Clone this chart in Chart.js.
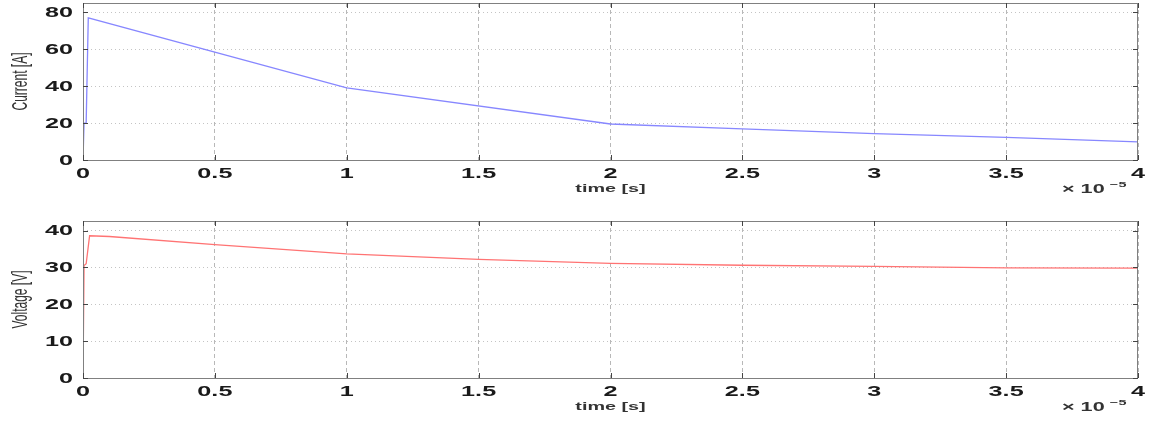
<!DOCTYPE html>
<html>
<head>
<meta charset="utf-8">
<script src="https://cdn.jsdelivr.net/npm/chart.js@4"></script>
<style>
  body { margin: 0; background: #fff; }
  .wrap { position: relative; width: 1157px; height: 421px; }
  canvas { position: absolute; left: 0; }
</style>
</head>
<body>
<div class="wrap">
  <canvas id="currentChart" width="1157" height="210" style="top:0"></canvas>
  <canvas id="voltageChart" width="1157" height="211" style="top:210px"></canvas>
</div>
<script>
// time axis is in units of 10^-5 s
const timeCurrent = [0, 0.004, 0.012, 0.02, 1.0, 2.0, 2.5, 3.0, 3.5, 4.0];
const current     = [0, 20, 20, 77, 39, 19.5, 16.8, 14.3, 12.2, 9.8];

const timeVoltage = [0, 0.004, 0.012, 0.025, 0.1, 0.5, 1.0, 1.5, 2.0, 2.5, 3.0, 3.5, 4.0];
const voltage     = [0, 30.5, 31, 38.6, 38.4, 36.2, 33.7, 32.2, 31.1, 30.6, 30.3, 29.9, 29.8];

const xTicks = [0, 0.5, 1, 1.5, 2, 2.5, 3, 3.5, 4];
const currentTicks = [0, 20, 40, 60, 80];
const voltageTicks = [0, 10, 20, 30, 40];
const xTitle = 'time [s]';
const xExponent = ['\u00d7 10', '\u22125'];

// the old figure was stretched sideways, so text is drawn wider than it is tall
const SX = 1.8;
const FONT = '"Liberation Sans", Arial, sans-serif';

function stretchedText(ctx, text, x, y, font, align, baseline, rotate) {
    ctx.save();
    ctx.translate(x, y);
    ctx.scale(SX, 1);
    if (rotate) ctx.rotate(-Math.PI / 2);
    ctx.font = font;
    ctx.textAlign = align;
    ctx.textBaseline = baseline;
    ctx.fillText(text, 0, 0);
    ctx.restore();
}

// box, inward ticks and labels drawn matlab style
const matlabAxes = {
    id: 'matlabAxes',
    afterDraw(chart, args, opts) {
        const ctx = chart.ctx;
        const a = chart.chartArea;
        const xs = chart.scales.x, ys = chart.scales.y;

        ctx.save();
        ctx.strokeStyle = '#808080';
        ctx.lineWidth = 1;
        ctx.strokeRect(a.left + 0.5, a.top + 0.5, a.right - a.left - 1, a.bottom - a.top);

        ctx.strokeStyle = '#444';
        ctx.beginPath();
        xs.ticks.forEach(t => {
            const px = Math.round(xs.getPixelForValue(t.value)) + 0.5;
            ctx.moveTo(px, a.bottom); ctx.lineTo(px, a.bottom - 5);
            ctx.moveTo(px, a.top); ctx.lineTo(px, a.top + 5);
        });
        ys.ticks.forEach(t => {
            const py = Math.round(ys.getPixelForValue(t.value)) + 0.5;
            ctx.moveTo(a.left, py); ctx.lineTo(a.left + 5, py);
            ctx.moveTo(a.right, py); ctx.lineTo(a.right - 5, py);
        });
        ctx.stroke();

        ctx.fillStyle = '#1a1a1a';
        const tickFont = 'bold 14px ' + FONT;
        xs.ticks.forEach(t => {
            stretchedText(ctx, String(t.value), xs.getPixelForValue(t.value), a.bottom + 7, tickFont, 'center', 'top');
        });
        ys.ticks.forEach(t => {
            stretchedText(ctx, String(t.value), a.left - 10, ys.getPixelForValue(t.value) + 1, tickFont, 'right', 'middle');
        });

        ctx.fillStyle = '#333';
        stretchedText(ctx, xTitle, (a.left + a.right) / 2, a.bottom + 29, 'bold 11px ' + FONT, 'center', 'middle');
        stretchedText(ctx, xExponent[0], 1062, a.bottom + 30, 'bold 12px ' + FONT, 'left', 'middle');
        stretchedText(ctx, xExponent[1], 1110, a.bottom + 25, 'bold 8px ' + FONT, 'left', 'middle');
        stretchedText(ctx, opts.yTitle, 21, (a.top + a.bottom) / 2, '12px ' + FONT, 'center', 'middle', true);
        ctx.restore();
    }
};

function makeChart(id, times, values, color, yMax, yTicks, yTitle, padTop, xHeight) {
    return new Chart(document.getElementById(id), {
        type: 'line',
        data: {
            datasets: [{
                data: times.map((t, i) => ({ x: t, y: values[i] })),
                borderColor: color,
                borderWidth: 1.3,
                pointRadius: 0,
                tension: 0
            }]
        },
        options: {
            responsive: false,
            animation: false,
            layout: { padding: { top: padTop, right: 19, left: 0, bottom: 0 } },
            plugins: {
                legend: { display: false },
                tooltip: { enabled: false },
                matlabAxes: { yTitle: yTitle }
            },
            scales: {
                x: {
                    type: 'linear',
                    min: 0,
                    max: 4,
                    afterBuildTicks: s => { s.ticks = xTicks.map(v => ({ value: v })); },
                    afterFit: s => { s.height = xHeight; },
                    ticks: { display: false },
                    grid: { color: '#b8b8b8', drawTicks: false, lineWidth: 1 },
                    border: { display: false, dash: [4, 3] }
                },
                y: {
                    min: 0,
                    max: yMax,
                    ticks: { display: false },
                    afterBuildTicks: s => { s.ticks = yTicks.map(v => ({ value: v })); },
                    afterFit: s => { s.width = 83; },
                    grid: { color: '#c4c4c4', drawTicks: false, lineWidth: 1 },
                    border: { display: false, dash: [1, 3] }
                }
            }
        },
        plugins: [matlabAxes]
    });
}

makeChart('currentChart', timeCurrent, current, 'rgb(135,135,255)', 85, currentTicks, 'Current [A]', 3, 50);
makeChart('voltageChart', timeVoltage, voltage, 'rgb(255,115,115)', 42.6, voltageTicks, 'Voltage [V]', 11, 43);
</script>
</body>
</html>
